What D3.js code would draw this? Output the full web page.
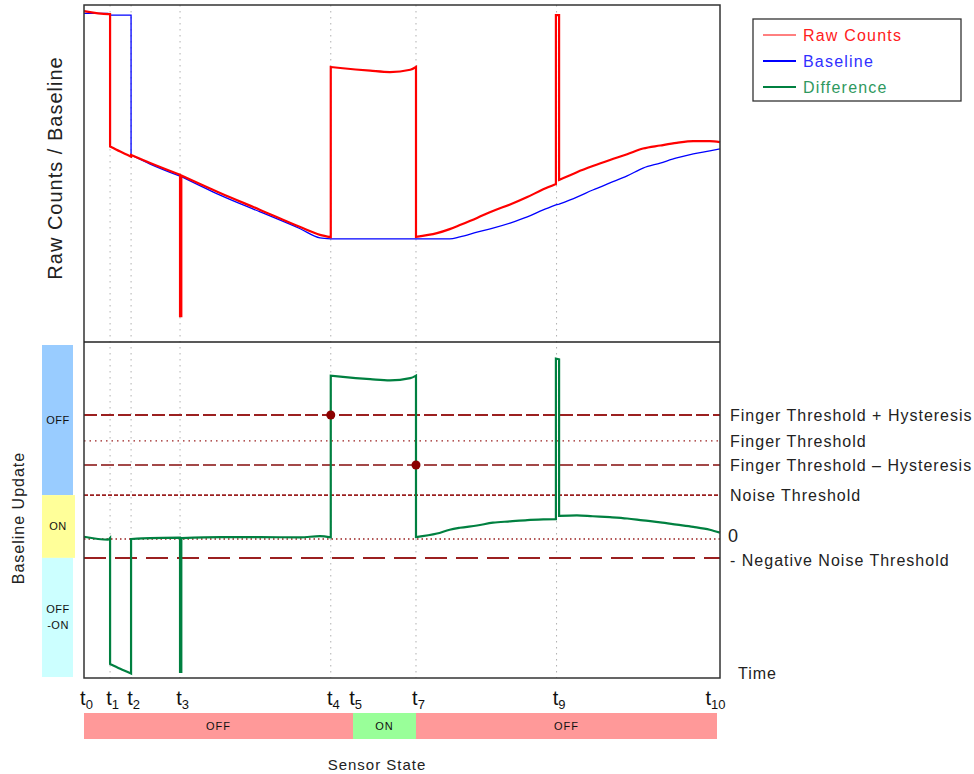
<!DOCTYPE html>
<html>
<head>
<meta charset="utf-8">
<script src="https://cdn.jsdelivr.net/npm/d3@7"></script>
<style>
  body { margin: 0; background: #fff; }
  svg { display: block; font-family: "Liberation Sans", Arial, sans-serif; }
  .lbl { fill: #222; font-size: 16px; letter-spacing: 1px; }
</style>
</head>
<body>
<svg id="chart" width="974" height="774"></svg>
<script>
// shared time axis (arbitrary units, 0 .. 100) for both series
const times = [0, 3.8, 4.1, 4.1, 5.7, 7.4, 7.4, 10.4, 15.1, 15.1, 15.3, 15.3, 21.4, 27.7, 34.0, 37.1,
  38.8, 38.8, 40.3, 45.0, 48.1, 51.3, 52.2, 52.2, 55.5, 57.5, 59.1, 61.8, 64.3, 67.0, 69.7, 72.2,
  74.2, 74.2, 74.7, 74.7, 77.5, 80.0, 82.7, 85.4, 87.9, 90.6, 93.2, 95.8, 98.4, 100];
const rawCounts = [982, 973, 973, 580, 565, 550, 555, 531, 496, 77, 77, 494, 442, 392, 341, 318,
  311, 816, 813, 805, 801, 808, 816, 312, 323, 335, 347, 368, 389, 408, 430, 453,
  469, 970, 970, 481, 504, 522, 540, 557, 574, 583, 591, 596, 596, 593];
const baseline = [975, 975, 970, 970, 970, 970, 555, 528, 492, 492, 492, 491, 436, 386, 336, 309,
  306, 306, 306, 306, 306, 306, 306, 306, 306, 306, 312, 326, 338, 353, 371, 392,
  407, 407, 409, 409, 430, 451, 472, 493, 516, 531, 546, 558, 567, 573];

// time marks t0 .. t10
const tickTimes = [0, 4.1, 7.4, 15.1, 38.8, 42.3, 52.2, 74.3, 100];
const tickSubs = ["0", "1", "2", "3", "4", "5", "7", "9", "10"];
const gridTimes = [4.1, 7.4, 15.1, 38.8, 52.2, 74.3];

// thresholds on the difference signal
const thresholdNames = ["Finger Threshold + Hysteresis", "Finger Threshold", "Finger Threshold \u2013 Hysteresis",
  "Noise Threshold", "0", "- Negative Noise Threshold"];
const thresholdValues = [387, 306, 231, 137, 0, -59];
const thresholdDash = ["13,4", "1.5,4", "13,4", "4,2", "1.5,3", "22,9"];

// baseline update zones (difference value ranges)
const updateZones = ["OFF", "ON", "OFF\n-ON"];
const updateTop = [615, 137, -59];
const updateBottom = [137, -59, -434];
const updateColors = ["#99ccff", "#ffff99", "#ccffff"];

// sensor state segments, as index into tickTimes
const stateNames = ["OFF", "ON", "OFF"];
const stateStart = [0, 5, 6];
const stateEnd = [5, 6, 8];
const stateColors = ["#ff9999", "#99ff99", "#ff9999"];

const svg = d3.select("#chart");
const pLeft = 84, pRight = 720, pTop = 5, pMid = 342, pBottom = 678;

const x = d3.scaleLinear().domain([0, 100]).range([pLeft, pRight]);
const yTop = d3.scaleLinear().domain([0, 1000]).range([pMid, pTop]);
const yDiff = d3.scaleLinear().domain([-434, 615]).range([pBottom, pMid]);

const rows = times.map((t, i) => ({ t: t, raw: rawCounts[i], base: baseline[i], diff: rawCounts[i] - baseline[i] }));

/**
 * Smooth path between the steps, with vertical jumps where a time repeats.
 */
function stepSmoothPath(data, yAcc) {
  const segs = [];
  let cur = [];
  data.forEach((r, i) => {
    if (i > 0 && r.t === data[i - 1].t) { segs.push(cur); cur = []; }
    cur.push(r);
  });
  segs.push(cur);
  const gen = d3.line().x(d => x(d.t)).y(yAcc).curve(d3.curveMonotoneX);
  return segs.map((s, k) => {
    const p = gen(s).replace(/Z$/, "");
    return k === 0 ? p : "L" + p.slice(1);
  }).join("");
}

// grid lines
svg.append("g").selectAll("line")
  .data(gridTimes).join("line")
  .attr("x1", d => x(d)).attr("x2", d => x(d))
  .attr("y1", pTop).attr("y2", pBottom)
  .attr("stroke", "#b0b0b0")
  .attr("stroke-dasharray", "1.5,4.5");

// baseline update zones
const zones = svg.append("g");
updateZones.forEach((z, i) => {
  const y0 = i === 0 ? pMid + 3 : yDiff(updateTop[i]);
  const y1 = i === 2 ? pBottom - 1 : yDiff(updateBottom[i]);
  zones.append("rect")
    .attr("x", 42).attr("y", y0)
    .attr("width", i === 1 ? 33 : 31).attr("height", y1 - y0)
    .attr("fill", updateColors[i]);
  const lines = z.split("\n");
  lines.forEach((s, j) => {
    zones.append("text")
      .attr("x", 58).attr("y", (y0 + y1) / 2 + 4 + (j - (lines.length - 1) / 2) * 16)
      .attr("text-anchor", "middle")
      .style("font-size", "11px")
      .style("letter-spacing", "0.5px")
      .attr("fill", "#111")
      .text(s);
  });
});

// threshold lines
const thr = svg.append("g");
thresholdValues.forEach((v, i) => {
  thr.append("line")
    .attr("x1", pLeft).attr("x2", pRight)
    .attr("y1", yDiff(v)).attr("y2", yDiff(v))
    .attr("stroke", i === 2 ? "#a34848" : "#9b2020")
    .attr("stroke-width", (i === 1 || i === 4) ? 1.3 : (i === 3 ? 1.6 : 2))
    .attr("stroke-dasharray", thresholdDash[i]);
  thr.append("text")
    .attr("class", "lbl")
    .attr("x", i === 4 ? 728 : 730)
    .attr("y", yDiff(v) + (i === 4 ? 3 : 6) + (i === 5 ? 2 : 0))
    .style("font-size", i === 4 ? "18px" : "16px")
    .text(thresholdNames[i]);
});

// series
svg.append("path")
  .attr("d", stepSmoothPath(rows, d => yTop(d.base)))
  .attr("fill", "none").attr("stroke", "#0000ff").attr("stroke-width", 1.3);
svg.append("path")
  .attr("d", stepSmoothPath(rows, d => yTop(d.raw)))
  .attr("fill", "none").attr("stroke", "#ff0000").attr("stroke-width", 2.2);
svg.append("path")
  .attr("d", stepSmoothPath(rows, d => yDiff(d.diff)))
  .attr("fill", "none").attr("stroke", "#008040").attr("stroke-width", 2.2);

// touch on / off markers
svg.append("g").selectAll("circle")
  .data([[38.8, 387], [52.2, 231]]).join("circle")
  .attr("cx", d => x(d[0])).attr("cy", d => yDiff(d[1]))
  .attr("r", 4.5).attr("fill", "#8b0000");

// panel frames
svg.append("rect")
  .attr("x", pLeft).attr("y", pTop)
  .attr("width", pRight - pLeft).attr("height", pBottom - pTop)
  .attr("fill", "none").attr("stroke", "#333").attr("stroke-width", 1.5);
svg.append("line")
  .attr("x1", pLeft).attr("x2", pRight).attr("y1", pMid).attr("y2", pMid)
  .attr("stroke", "#222").attr("stroke-width", 1.5);

// time axis with subscript labels
const axis = svg.append("g")
  .attr("transform", "translate(0," + (pBottom + 27) + ")")
  .call(d3.axisBottom(x).tickValues(tickTimes).tickSize(0).tickFormat(""));
axis.select(".domain").remove();
axis.selectAll(".tick").each(function (d, i) {
  const t = d3.select(this).append("text")
    .attr("x", i === 8 ? -5 : 2).attr("y", 0)
    .attr("text-anchor", "middle")
    .attr("fill", "#111")
    .style("font-size", "20px");
  t.append("tspan").text("t");
  t.append("tspan").attr("dy", 4).style("font-size", "13px").text(tickSubs[i]);
});

// sensor state bar
const states = svg.append("g");
stateNames.forEach((s, i) => {
  const x0 = x(tickTimes[stateStart[i]]);
  const x1 = i === 2 ? pRight - 3 : x(tickTimes[stateEnd[i]]);
  states.append("rect")
    .attr("x", x0).attr("y", 713)
    .attr("width", x1 - x0).attr("height", 26)
    .attr("fill", stateColors[i]);
  states.append("text")
    .attr("x", (x0 + x1) / 2).attr("y", 730)
    .attr("text-anchor", "middle")
    .style("font-size", "11px")
    .style("letter-spacing", "1px")
    .attr("fill", "#111")
    .text(s);
});

// axis titles
svg.append("text")
  .attr("transform", "translate(62,168) rotate(-90)")
  .attr("text-anchor", "middle")
  .style("font-size", "20px")
  .style("letter-spacing", "1px")
  .attr("fill", "#222")
  .text("Raw Counts / Baseline");
svg.append("text")
  .attr("transform", "translate(24,518) rotate(-90)")
  .attr("text-anchor", "middle")
  .style("font-size", "16px")
  .style("letter-spacing", "1px")
  .attr("fill", "#222")
  .text("Baseline Update");
svg.append("text")
  .attr("class", "lbl")
  .attr("x", 738).attr("y", 679)
  .text("Time");
svg.append("text")
  .attr("x", 377).attr("y", 770)
  .attr("text-anchor", "middle")
  .style("font-size", "15px")
  .style("letter-spacing", "1px")
  .attr("fill", "#222")
  .text("Sensor State");

// legend
const legendNames = ["Raw Counts", "Baseline", "Difference"];
const legendColors = ["#ff0000", "#0000ff", "#008040"];
const legendText = ["#ff2020", "#3030ff", "#2e9960"];
const legend = svg.append("g");
legend.append("rect")
  .attr("x", 753).attr("y", 19).attr("width", 208).attr("height", 82)
  .attr("fill", "#fff").attr("stroke", "#333").attr("stroke-width", 1.3);
legendNames.forEach((n, i) => {
  const y = 35 + i * 26;
  legend.append("line")
    .attr("x1", 763).attr("x2", 796).attr("y1", y).attr("y2", y)
    .attr("stroke", legendColors[i]).attr("stroke-width", i === 0 ? 1 : 2);
  legend.append("text")
    .attr("x", 803).attr("y", y + 6)
    .style("font-size", "16px")
    .style("letter-spacing", "1.2px")
    .attr("fill", legendText[i])
    .text(n);
});
</script>
</body>
</html>
